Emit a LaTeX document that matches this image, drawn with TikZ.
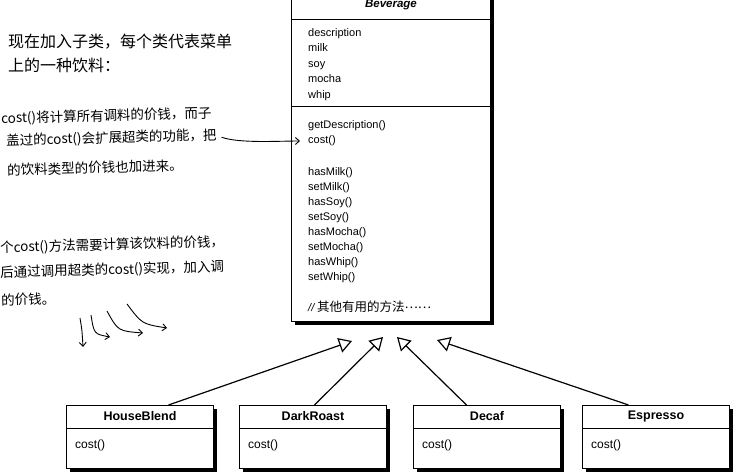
\documentclass[tikz,border=0pt]{standalone}
\usepackage{fontspec}
\setmainfont{Liberation Sans}
\newfontfamily\cjk{Noto Sans CJK SC}
\usetikzlibrary{arrows.meta,shadows}

\tikzset{
    classbox/.style={draw, line width=1pt, fill=white, inner sep=0pt,
        drop shadow={shadow xshift=3.5pt, shadow yshift=-3.5pt, fill=black, opacity=1}},
    subclass/.style={classbox, anchor=north west, minimum width=147pt, minimum height=63pt},
    classname/.style={font=\fontsize{12.5}{14}\selectfont\bfseries, inner sep=0pt},
    member/.style={font=\fontsize{11}{15}\selectfont, inner sep=0pt, align=left},
    sep/.style={line width=0.8pt},
    intro/.style={font=\cjk\fontsize{16}{24}\selectfont, inner sep=0pt, align=left},
    note/.style={font=\cjk\fontsize{13.5}{15}\selectfont, inner sep=0pt, rotate=1.5, anchor=west},
    extends/.style={line width=1.2pt, -{Triangle[open, length=13pt, width=15pt]}},
    hand/.style={line width=0.9pt, -{Straight Barb[length=4pt, width=7pt]}},
}

\begin{document}
\begin{tikzpicture}[x=1pt, y=-1pt]
    \clip (0,0) rectangle (750,473);

    % 超类
    \node[classbox, anchor=north west, minimum width=199pt, minimum height=327pt] (beverage) at (291,-6) {};
    \node[classname, font=\fontsize{11.5}{13}\selectfont\bfseries\itshape] (bevname) at ([yshift=-11pt]beverage.north) {Beverage};
    \draw[sep] ([yshift=-25pt]beverage.north west) -- ([yshift=-25pt]beverage.north east);
    \draw[sep] ([yshift=-112pt]beverage.north west) -- ([yshift=-112pt]beverage.north east);
    \node[member, font=\fontsize{11}{15.5}\selectfont, anchor=north west] (fields) at (308,28) {description\\milk\\soy\\mocha\\whip};
    \node[member, anchor=west] (getdesc) at (308,126) {getDescription()};
    \node[member, anchor=west] (cost) at (308,141) {cost()};
    \node[member, anchor=north west] (setters) at (308,167) {hasMilk()\\setMilk()\\hasSoy()\\setSoy()\\hasMocha()\\setMocha()\\hasWhip()\\setWhip()};
    \node[member, anchor=west] (others) at (308,307) {\textit{//}\,{\cjk\fontsize{12.5}{14}\selectfont 其他有用的方法\raisebox{0.3em}{……}}};

    % 批注
    \node[intro, anchor=north west] (intro) at (8,34) {现在加入子类，每个类代表菜单\\上的一种饮料：};
    \node[note] (n1a) at (1,119) {cost()将计算所有调料的价钱，而子};
    \node[note] (n1b) at (6,141) {盖过的cost()会扩展超类的功能，把};
    \node[note] (n1c) at (7,170) {的饮料类型的价钱也加进来。};
    \draw[hand, shorten <=5pt] (n1b.east) .. controls +(22,8) and +(-22,0) .. ([xshift=-8pt]cost.west);

    \node[note] (n2a) at (0,248) {个cost()方法需要计算该饮料的价钱，};
    \node[note] (n2b) at (0,273) {后通过调用超类的cost()实现，加入调};
    \node[note] (n2c) at (1,300) {的价钱。};
    \draw[hand] (80,318) .. controls (82,330) .. (83,347);
    \draw[hand] (91,315) .. controls (94,334) .. (110,337);
    \draw[hand] (107,311) .. controls (118,331) .. (143,333);
    \draw[hand] (127,304) .. controls (142,324) .. (167,328);

    % 子类
    \node[subclass] (houseblend) at (66,405) {};
    \node[classname] (hbname) at ([yshift=-11.5pt]houseblend.north) {HouseBlend};
    \draw[sep] ([yshift=-23.5pt]houseblend.north west) -- ([yshift=-23.5pt]houseblend.north east);
    \node[member, font=\fontsize{12}{14}\selectfont, anchor=west] (hbcost) at ([xshift=9pt, yshift=-40pt]houseblend.north west) {cost()};

    \node[subclass] (darkroast) at (239,405) {};
    \node[classname] (drname) at ([yshift=-11.5pt]darkroast.north) {DarkRoast};
    \draw[sep] ([yshift=-23.5pt]darkroast.north west) -- ([yshift=-23.5pt]darkroast.north east);
    \node[member, font=\fontsize{12}{14}\selectfont, anchor=west] (drcost) at ([xshift=9pt, yshift=-40pt]darkroast.north west) {cost()};

    \node[subclass] (decaf) at (413,405) {};
    \node[classname] (dcname) at ([yshift=-11.5pt]decaf.north) {Decaf};
    \draw[sep] ([yshift=-23.5pt]decaf.north west) -- ([yshift=-23.5pt]decaf.north east);
    \node[member, font=\fontsize{12}{14}\selectfont, anchor=west] (dccost) at ([xshift=9pt, yshift=-40pt]decaf.north west) {cost()};

    \node[subclass] (espresso) at (582,405) {};
    \node[classname] (esname) at ([yshift=-11.5pt]espresso.north) {Espresso};
    \draw[sep] ([yshift=-23.5pt]espresso.north west) -- ([yshift=-23.5pt]espresso.north east);
    \node[member, font=\fontsize{12}{14}\selectfont, anchor=west] (escost) at ([xshift=9pt, yshift=-40pt]espresso.north west) {cost()};

    % 继承
    \coordinate (tiphb) at (352,341);
    \coordinate (tipdr) at (383,337);
    \coordinate (tipdc) at (397,337);
    \coordinate (tipes) at (437,340);
    \draw[extends] ([xshift=28.5pt]houseblend.north) -- (tiphb);
    \draw[extends] ([xshift=1.5pt]darkroast.north) -- (tipdr);
    \draw[extends] ([xshift=-20.5pt]decaf.north) -- (tipdc);
    \draw[extends] ([xshift=-27.5pt]espresso.north) -- (tipes);
\end{tikzpicture}
\end{document}
